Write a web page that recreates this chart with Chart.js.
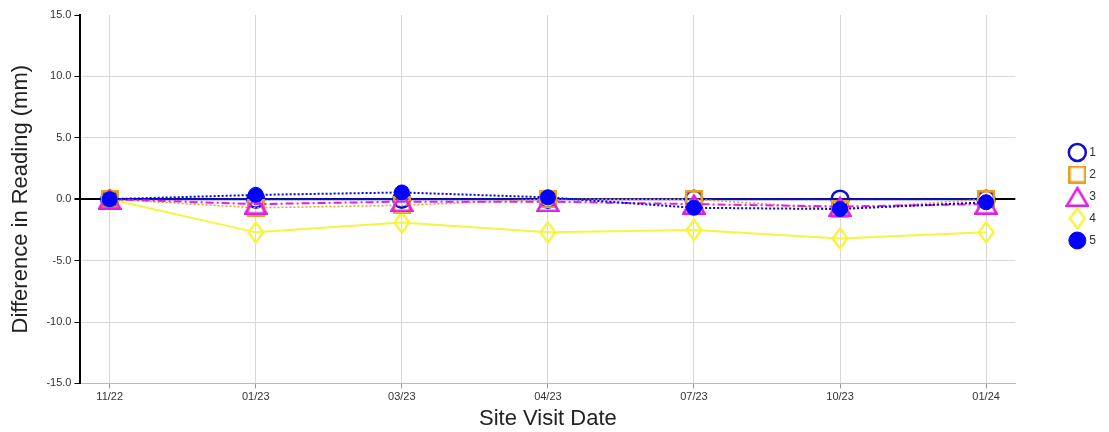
<!DOCTYPE html>
<html>
<head>
<meta charset="utf-8">
<script src="https://cdn.jsdelivr.net/npm/chart.js@4/dist/chart.umd.min.js"></script>
<style>
  body { margin: 0; background: #fff; }
  #wrap { width: 1109px; height: 432px; }
</style>
</head>
<body>
<div id="wrap"><canvas id="line-chart" width="1109" height="432"></canvas></div>
<script>
const visitDates = ['11/22', '01/23', '03/23', '04/23', '07/23', '10/23', '01/24'];

const series1 = [0.0, 0.0, 0.0, 0.0, 0.0, 0.0, 0.0];
const series2 = [0.0, -0.7, -0.5, 0.0, 0.0, -0.8, 0.0];
const series3 = [0.0, -0.4, -0.2, -0.2, -0.4, -0.6, -0.4];
const series4 = [0.0, -2.7, -1.9, -2.7, -2.5, -3.2, -2.7];
const series5 = [0.0, 0.35, 0.55, 0.15, -0.7, -0.8, -0.25];

const yTicks = [-15, -10, -5, 0, 5, 10, 15];

function pts(values) {
    return values.map((v, i) => ({ x: i, y: v }));
}

// small outlined marker images (square, triangle, tall diamond)
function marker(w, h, color, path) {
    const c = document.createElement('canvas');
    c.width = w; c.height = h;
    const g = c.getContext('2d');
    g.strokeStyle = color;
    g.lineWidth = 2.5;
    g.lineJoin = 'miter';
    g.beginPath();
    path(g, w, h);
    g.closePath();
    g.stroke();
    return c;
}
const squareImg = marker(18, 18, '#e8a020', (g, w, h) => { g.rect(1.25, 1.25, w - 2.5, h - 2.5); });
const triangleImg = marker(24, 21, '#e020e0', (g, w, h) => {
    g.moveTo(w / 2, 2); g.lineTo(w - 1.5, h - 1.25); g.lineTo(1.5, h - 1.25);
});
const diamondImg = marker(18, 23, '#f5f540', (g, w, h) => {
    g.moveTo(w / 2, 1.5); g.lineTo(w - 1.5, h / 2); g.lineTo(w / 2, h - 1.5); g.lineTo(1.5, h / 2);
});

// legend sits apart from the plot, a bit higher than the default centring
const legendGap = {
    id: 'legendGap',
    beforeLayout(chart) {
        const lg = chart.legend;
        if (!lg || lg._gap) return;
        lg._gap = true;
        const fit = lg.fit;
        lg.fit = function () { fit.call(this); this.width += 49; };
        const draw = lg.draw;
        lg.draw = function () {
            const l = this.left, t = this.top, b = this.bottom;
            this.left += 46; this.top -= 27; this.bottom -= 27;
            draw.call(this);
            this.left = l; this.top = t; this.bottom = b;
        };
    }
};

const lnc = document.getElementById('line-chart');
new Chart(lnc, {
    type: 'line',
    data: {
        datasets: [
            {
                label: '1', data: pts(series1), order: 3,
                borderColor: '#1010c8', backgroundColor: 'rgba(0,0,0,0)',
                borderWidth: 2, pointStyle: 'circle', pointRadius: 8.5, pointBorderWidth: 2.5
            },
            {
                label: '2', data: pts(series2), order: 2,
                borderColor: '#e8a020', backgroundColor: 'rgba(0,0,0,0)',
                borderWidth: 1.5, borderDash: [2, 2], pointStyle: squareImg
            },
            {
                label: '3', data: pts(series3), order: 1,
                borderColor: '#e020e0', backgroundColor: 'rgba(0,0,0,0)',
                borderWidth: 2, borderDash: [8, 3, 2, 3], pointStyle: triangleImg
            },
            {
                label: '4', data: pts(series4), order: 4,
                borderColor: '#f5f540', backgroundColor: 'rgba(0,0,0,0)',
                borderWidth: 2, pointStyle: diamondImg
            },
            {
                label: '5', data: pts(series5), order: 0,
                borderColor: '#0000ff', backgroundColor: '#0000ff',
                borderWidth: 2, borderDash: [2, 2], pointStyle: 'circle', pointRadius: 7.5, pointBorderWidth: 1
            }
        ]
    },
    options: {
        responsive: false,
        animation: false,
        devicePixelRatio: 1,
        layout: { padding: { top: 15, right: 0, left: 8, bottom: 0 } },
        plugins: {
            tooltip: { enabled: false },
            legend: {
                position: 'right',
                labels: {
                    usePointStyle: true,
                    padding: 10,
                    color: '#333',
                    font: { family: 'Liberation Sans, Arial, sans-serif', size: 12 },
                    sort: (a, b) => a.datasetIndex - b.datasetIndex
                }
            }
        },
        scales: {
            x: {
                type: 'linear',
                min: -0.2,
                max: 6.2,
                afterBuildTicks: axis => { axis.ticks = visitDates.map((d, i) => ({ value: i })); },
                ticks: {
                    callback: v => visitDates[v],
                    color: '#333',
                    font: { family: 'Liberation Sans, Arial, sans-serif', size: 11 },
                    padding: 2
                },
                grid: { color: '#d8d8d8', tickColor: '#999', tickLength: 5 },
                border: { color: '#bbb', width: 1 },
                title: {
                    display: true,
                    text: 'Site Visit Date',
                    color: '#222',
                    font: { family: 'Liberation Sans, Arial, sans-serif', size: 22 },
                    padding: { top: 0, bottom: 0 }
                }
            },
            y: {
                min: -15,
                max: 15,
                afterBuildTicks: axis => { axis.ticks = yTicks.map(v => ({ value: v })); },
                ticks: {
                    callback: v => v.toFixed(1),
                    color: '#333',
                    font: { family: 'Liberation Sans, Arial, sans-serif', size: 11 },
                    padding: 3
                },
                grid: {
                    color: c => c.tick.value === 0 ? '#000' : (c.tick.value === 15 ? 'rgba(0,0,0,0)' : '#d8d8d8'),
                    lineWidth: c => c.tick.value === 0 ? 2 : 1,
                    tickColor: '#000',
                    tickLength: 6
                },
                border: { color: '#000', width: 2 },
                title: {
                    display: true,
                    text: 'Difference in Reading (mm)',
                    color: '#222',
                    font: { family: 'Liberation Sans, Arial, sans-serif', size: 22 },
                    padding: { top: 0, bottom: 9 }
                }
            }
        }
    },
    plugins: [legendGap]
});
</script>
</body>
</html>
